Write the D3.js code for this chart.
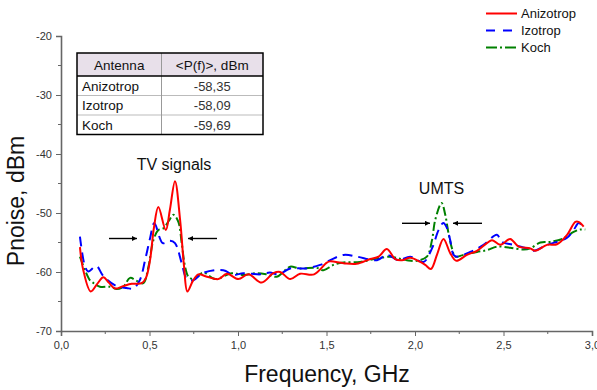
<!DOCTYPE html>
<html><head><meta charset="utf-8">
<script src="https://cdn.jsdelivr.net/npm/d3@7"></script>
<style>body{margin:0;background:#fff;} svg{display:block;font-family:"Liberation Sans",Arial,sans-serif;}</style>
</head><body>
<svg id="c" width="597" height="390"></svg>
<script>
// ---- data ----
const seriesNames = ["Anizotrop", "Izotrop", "Koch"];
const freqA = [0.107,0.126,0.168,0.205,0.239,0.27,0.305,0.35,0.40,0.456,0.48,0.503,0.525,0.55,0.592,0.615,0.644,0.673,0.695,0.714,0.745,0.776,0.824,0.889,0.937,1.002,1.059,1.134,1.2,1.238,1.295,1.351,1.43,1.502,1.52,1.596,1.67,1.747,1.794,1.841,1.888,1.926,1.973,2.03,2.058,2.09,2.125,2.161,2.199,2.233,2.293,2.35,2.406,2.435,2.482,2.538,2.585,2.651,2.68,2.746,2.802,2.859,2.906,2.924,2.953];
const valA  = [-55.8,-59.7,-63.3,-62.0,-60.9,-61.8,-62.8,-62.4,-62.0,-61.9,-61.0,-58.0,-52.5,-49.0,-52.9,-49.5,-44.6,-51.2,-59.0,-63.3,-61.5,-60.4,-60.8,-61.2,-60.3,-61.2,-60.4,-61.8,-60.2,-60.0,-61.2,-60.3,-60.4,-58.4,-58.2,-58.5,-58.6,-57.8,-57.4,-56.1,-57.8,-58.0,-57.6,-58.3,-58.8,-59.5,-57.0,-54.4,-56.8,-58.1,-57.1,-56.4,-55.1,-54.6,-55.4,-54.4,-55.7,-56.0,-56.4,-55.4,-55.3,-53.7,-51.5,-51.5,-52.3];
const freqI = [0.107,0.136,0.154,0.2,0.239,0.315,0.37,0.408,0.445,0.475,0.503,0.527,0.575,0.616,0.644,0.682,0.71,0.748,0.80,0.917,0.974,1.03,1.125,1.18,1.228,1.295,1.379,1.464,1.596,1.672,1.785,1.841,1.907,1.973,2.048,2.096,2.133,2.16,2.18,2.199,2.218,2.237,2.312,2.387,2.463,2.49,2.557,2.633,2.67,2.746,2.821,2.859,2.896,2.924,2.94];
const valI  = [-54.0,-59.1,-59.9,-59.0,-60.7,-62.4,-62.7,-62.8,-61.4,-58.0,-54.3,-51.7,-55.1,-54.7,-55.1,-58.5,-61.1,-61.4,-60.2,-59.7,-60.5,-60.2,-60.4,-60.1,-60.4,-59.4,-59.4,-58.8,-57.1,-57.4,-58.0,-57.1,-58.0,-57.4,-58.3,-56.0,-52.9,-51.7,-52.5,-54.6,-57.1,-57.4,-56.6,-55.4,-53.7,-54.9,-55.4,-56.0,-56.4,-55.4,-54.7,-54.2,-52.9,-51.7,-52.0];
const freqK = [0.107,0.136,0.164,0.185,0.22,0.277,0.315,0.352,0.39,0.428,0.465,0.494,0.522,0.55,0.578,0.612,0.635,0.663,0.682,0.701,0.72,0.748,0.804,0.87,0.965,1.03,1.106,1.163,1.219,1.266,1.295,1.351,1.445,1.483,1.539,1.596,1.69,1.785,1.86,1.907,1.954,2.011,2.067,2.096,2.114,2.15,2.171,2.189,2.209,2.227,2.274,2.35,2.406,2.463,2.538,2.614,2.651,2.708,2.764,2.84,2.896,2.934,2.962];
const valK  = [-57.4,-59.7,-61.4,-61.9,-62.5,-62.5,-62.9,-62.5,-61.0,-61.5,-61.9,-59.1,-54.6,-52.9,-52.6,-51.2,-50.3,-51.5,-55.1,-59.1,-60.8,-61.2,-60.1,-61.2,-60.2,-60.5,-60.2,-60.4,-60.8,-59.7,-59.1,-59.4,-59.3,-59.7,-58.8,-58.4,-58.3,-57.7,-57.4,-57.7,-58.0,-58.1,-57.4,-54.6,-51.2,-48.3,-50.3,-53.4,-56.0,-57.4,-57.1,-56.6,-56.3,-55.7,-55.9,-56.2,-56.0,-55.0,-54.9,-54.3,-53.2,-52.8,-52.8];
const xMajor = [0,0.5,1.0,1.5,2.0,2.5,3.0];
const yMajor = [-70,-60,-50,-40,-30,-20];
const tableHeader = ["Antenna", "<P(f)>, dBm"];
const tableRows = [["Anizotrop","-58,35"],["Izotrop","-58,09"],["Koch","-59,69"]];
const annotations = ["TV signals", "UMTS"];

// ---- chart ----
const svg = d3.select("#c");
const x = d3.scaleLinear([0,3],[61,592]);
const y = d3.scaleLinear([-70,-20],[331,36]);
const axisColor = "#666";

const xMinor = d3.range(0.25,3,0.5);
const yMinor = d3.range(-65,-20,10);

const gx = svg.append("g").attr("transform","translate(0,331)")
  .call(d3.axisBottom(x).tickValues(xMajor).tickSize(5).tickPadding(5).tickFormat(d=>d.toFixed(1).replace(".",",")));
gx.append("g").selectAll("line").data(xMinor).join("line")
  .attr("x1",d=>x(d)).attr("x2",d=>x(d)).attr("y1",0).attr("y2",3).attr("stroke",axisColor);
const gy = svg.append("g").attr("transform","translate(61,0)")
  .call(d3.axisLeft(y).tickValues(yMajor).tickSize(5).tickPadding(4).tickFormat(d=>d));
gy.append("g").selectAll("line").data(yMinor).join("line")
  .attr("y1",d=>y(d)).attr("y2",d=>y(d)).attr("x1",0).attr("x2",-3).attr("stroke",axisColor);
[gx,gy].forEach(g=>{
  g.select(".domain").attr("stroke",axisColor).attr("stroke-width",1.6);
  g.selectAll(".tick line").attr("stroke",axisColor).attr("stroke-width",1);
  g.selectAll(".tick text").attr("fill","#333").style("font-size","11px").style("font-family","'Liberation Sans',Arial,sans-serif");
});

// axis labels
svg.append("text").attr("x",327).attr("y",382).attr("text-anchor","middle")
  .style("font-size","23px").attr("fill","#111").text("Frequency, GHz");
svg.append("text").attr("transform","translate(24,201) rotate(-90)").attr("text-anchor","middle")
  .style("font-size","23px").attr("fill","#111").text("Pnoise, dBm");

// lines
const line = d3.line().x(d=>x(d[0])).y(d=>y(d[1])).curve(d3.curveCatmullRom.alpha(0.5));
const series = [
  {name:seriesNames[0], f:freqA, v:valA, color:"#ff0000", dash:null, ldash:null},
  {name:seriesNames[1], f:freqI, v:valI, color:"#0000ff", dash:"10,6", ldash:"9,8"},
  {name:seriesNames[2], f:freqK, v:valK, color:"#008000", dash:"9,3,2,3", ldash:"11,3,2,3"}
];
[series[2],series[1],series[0]].forEach(s=>{
  svg.append("path").datum(d3.zip(s.f,s.v)).attr("d",line)
    .attr("fill","none").attr("stroke",s.color).attr("stroke-width",2)
    .attr("stroke-dasharray",s.dash);
});

// legend
const lg = svg.append("g");
series.forEach((s,i)=>{
  const yy = 13.5 + i*17;
  lg.append("line").attr("x1",486).attr("x2",517).attr("y1",yy).attr("y2",yy)
    .attr("stroke",s.color).attr("stroke-width",2).attr("stroke-dasharray",s.ldash);
  lg.append("text").attr("x",521).attr("y",yy+4.5).style("font-size","13px").attr("fill","#111").text(s.name);
});

// table
const tx0=77, tx1=263, tcol=161.5, ty0=53, th=23, rh=19.5;
const tg = svg.append("g");
tg.append("rect").attr("x",tx0).attr("y",ty0).attr("width",tx1-tx0).attr("height",th).attr("fill","#e8e0ea");
for(let i=1;i<tableRows.length;i++){
  tg.append("line").attr("x1",tx0).attr("x2",tx1).attr("y1",ty0+th+i*rh).attr("y2",ty0+th+i*rh).attr("stroke","#bbb").attr("stroke-width",1);
}
tg.append("line").attr("x1",tcol).attr("x2",tcol).attr("y1",ty0).attr("y2",ty0+th+tableRows.length*rh).attr("stroke","#999").attr("stroke-width",1);
tg.append("line").attr("x1",tx0).attr("x2",tx1).attr("y1",ty0+th).attr("y2",ty0+th).attr("stroke","#000").attr("stroke-width",1.3);
tg.append("rect").attr("x",tx0).attr("y",ty0).attr("width",tx1-tx0).attr("height",th+tableRows.length*rh)
  .attr("fill","none").attr("stroke","#000").attr("stroke-width",1.5);
tg.append("text").attr("x",(tx0+tcol)/2).attr("y",ty0+16.5).attr("text-anchor","middle").style("font-size","13.5px").attr("fill","#111").text(tableHeader[0]);
tg.append("text").attr("x",(tcol+tx1)/2).attr("y",ty0+16.5).attr("text-anchor","middle").style("font-size","13.5px").attr("fill","#111").text(tableHeader[1]);
tableRows.forEach((r,i)=>{
  const yy = ty0+th+i*rh+14.5;
  tg.append("text").attr("x",tx0+5).attr("y",yy).style("font-size","13.5px").attr("fill","#111").text(r[0]);
  tg.append("text").attr("x",(tcol+tx1)/2).attr("y",yy).attr("text-anchor","middle").style("font-size","13px").attr("fill","#333").text(r[1]);
});

// annotations
svg.append("text").attr("x",174).attr("y",170).attr("text-anchor","middle").style("font-size","16px").attr("fill","#111").text(annotations[0]);
svg.append("text").attr("x",441.5).attr("y",194).attr("text-anchor","middle").style("font-size","16px").attr("fill","#111").text(annotations[1]);

svg.append("defs").append("marker").attr("id","ah").attr("viewBox","0 0 10 10").attr("refX",10).attr("refY",5)
  .attr("markerWidth",7).attr("markerHeight",5).attr("markerUnits","userSpaceOnUse").attr("orient","auto")
  .append("path").attr("d","M0,0L10,5L0,10Z").attr("fill","#000");
const arrows = [[109,137,238.5],[217,188,238.5],[402,430,223.3],[482,453,223.3]];
arrows.forEach(a=>{
  svg.append("line").attr("x1",a[0]).attr("x2",a[1]).attr("y1",a[2]).attr("y2",a[2])
    .attr("stroke","#000").attr("stroke-width",1.4).attr("marker-end","url(#ah)");
});
</script>
</body></html>
